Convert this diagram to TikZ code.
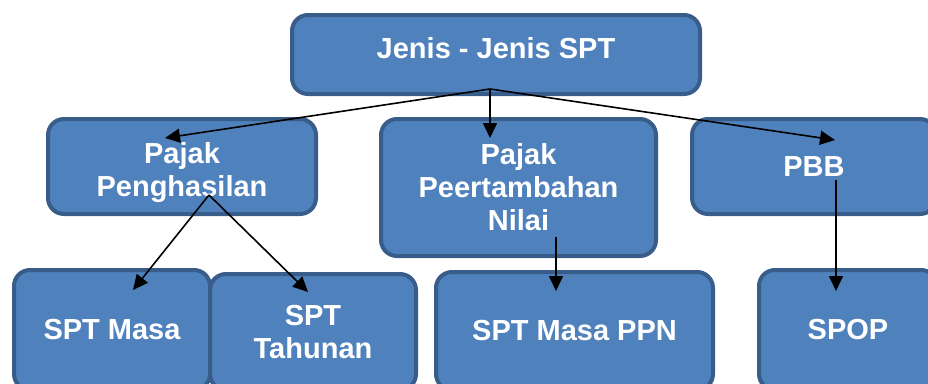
\documentclass[tikz,border=0pt]{standalone}
\usepackage{fontspec}
\setmainfont{Liberation Sans}
\usetikzlibrary{arrows.meta,positioning,calc}
\definecolor{boxfill}{RGB}{79,129,189}
\definecolor{boxline}{RGB}{56,93,138}

\begin{document}
\begin{tikzpicture}[
    sptbox/.style={rectangle, rounded corners=16pt, draw=boxline, line width=4pt, fill=boxfill,
                 align=center, text=white, font=\fontsize{29}{33}\selectfont\bfseries},
    arr/.style={-{Triangle[length=15pt,width=14pt]}, line width=1.6pt, black}
]
\useasboundingbox (0,0) rectangle (928pt,-383pt);
\node[sptbox, minimum width=408pt, minimum height=79pt, text depth=14pt] (jenis) at (496pt,-54.5pt) {Jenis - Jenis SPT};
\node[sptbox, minimum width=275pt, minimum height=137pt, below=21pt of jenis, xshift=22.5pt] (ppn) {Pajak\\Peertambahan\\Nilai};
\node[sptbox, minimum width=268pt, minimum height=95pt, left=61pt of ppn.north west, anchor=north east] (pph) {\rule{0pt}{14pt}\\[-14pt]Pajak\\Penghasilan};
\node[sptbox, minimum width=244pt, minimum height=95pt, right=32pt of ppn.north east, anchor=north west] (pbb) {PBB};
\node[sptbox, minimum width=196pt, minimum height=120pt, below=52pt of pph.south west, anchor=north west, xshift=-34pt] (masa) {SPT Masa};
\node[sptbox, minimum width=206pt, minimum height=116pt, right=-4pt of masa.north east, anchor=north west, yshift=-4pt] (tahunan) {SPT\\Tahunan};
\node[sptbox, minimum width=277pt, minimum height=118pt, right=16pt of tahunan.north east, anchor=north west, yshift=2pt] (masappn) {SPT Masa PPN};
\node[sptbox, minimum width=178pt, minimum height=120pt, right=42pt of masappn.north east, anchor=north west, yshift=2pt] (spop) {SPOP};
% branch points
\coordinate (hub) at ([xshift=-6pt,yshift=7pt]jenis.south);
\coordinate (pphout) at ([xshift=27pt,yshift=21pt]pph.south);
\coordinate (ppnout) at ([xshift=37.5pt,yshift=21pt]ppn.south);
\coordinate (pbbout) at ([xshift=22pt,yshift=36pt]pbb.south);
\draw[arr] (hub)--([xshift=-17pt,yshift=-21pt]pph.north);
\draw[arr] (hub)--($(hub |- ppn.north)+(0,-21pt)$);
\draw[arr] (hub)--([xshift=21pt,yshift=-23pt]pbb.north);
\draw[arr] (pphout)--([xshift=21pt,yshift=-22pt]masa.north);
\draw[arr] (pphout)--([xshift=-5pt,yshift=-20pt]tahunan.north);
\draw[arr] (ppnout)--($(ppnout |- masappn.north)+(0,-21pt)$);
\draw[arr] (pbbout)--($(pbbout |- spop.north)+(0,-23pt)$);
\end{tikzpicture}
\end{document}
